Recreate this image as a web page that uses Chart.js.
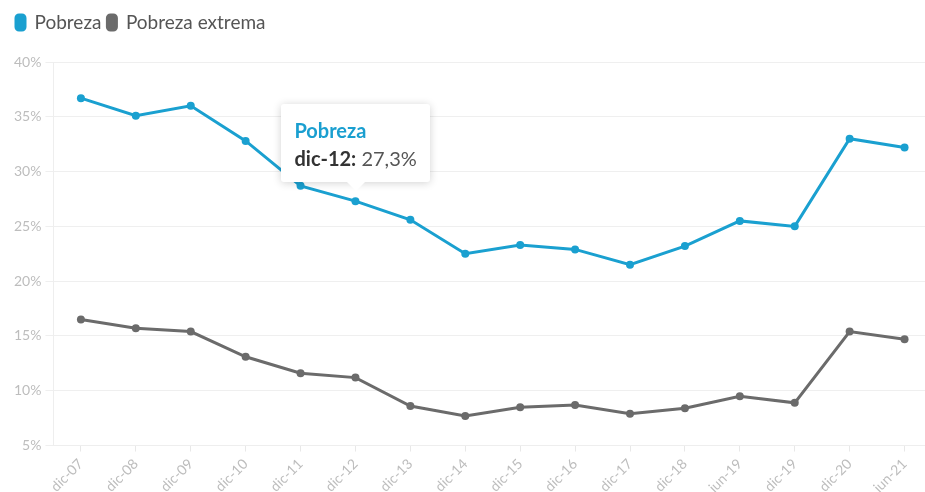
<!DOCTYPE html>
<html>
<head>
<meta charset="utf-8">
<script src="https://cdn.jsdelivr.net/npm/chart.js@4/dist/chart.umd.min.js"></script>
<style>
  html, body { margin: 0; padding: 0; background: #fff; overflow: hidden; }
  .wrap { position: relative; width: 936px; height: 500px; }
  #tip {
    position: absolute; pointer-events: none; background: #fff;
    box-shadow: 0 1px 8px rgba(0,0,0,0.18); border-radius: 3px;
    padding: 14px 13px 12px 13px; font-family: Lato, "Open Sans", sans-serif;
    white-space: nowrap; opacity: 0;
  }
  #tip::after {
    content: ''; position: absolute; left: 50%; bottom: -9px; margin-left: -10px;
    border-left: 10px solid transparent; border-right: 10px solid transparent;
    border-top: 10px solid #fff;
  }
  #tip .t { color: #1a9fd0; font-weight: bold; font-size: 20px; margin-bottom: 4px; }
  #tip .b { color: #555; font-size: 20px; }
  #tip .b strong { color: #333; }
</style>
</head>
<body>
<div class="wrap">
  <canvas id="chart" width="936" height="500"></canvas>
  <div id="tip"></div>
</div>
<script>
// Datos
const labels = ['dic-07','dic-08','dic-09','dic-10','dic-11','dic-12','dic-13','dic-14',
  'dic-15','dic-16','dic-17','dic-18','jun-19','dic-19','dic-20','jun-21'];
const pobreza = [36.7, 35.1, 36.0, 32.8, 28.7, 27.3, 25.6, 22.5, 23.3, 22.9, 21.5, 23.2, 25.5, 25.0, 33.0, 32.2];
const pobrezaExtrema = [16.5, 15.7, 15.4, 13.1, 11.6, 11.2, 8.6, 7.7, 8.5, 8.7, 7.9, 8.4, 9.5, 8.9, 15.4, 14.7];
const yTicks = [5, 10, 15, 20, 25, 30, 35, 40];

const BLUE = '#1aa0d0';
const GREY = '#6b6b6b';
const FONT = 'Lato, "Open Sans", sans-serif';

const fmt = v => v.toFixed(1).replace('.', ',') + '%';

/** Tooltip HTML con caret hacia abajo */
function externalTip(context) {
  const { chart, tooltip } = context;
  const el = document.getElementById('tip');
  if (tooltip.opacity === 0 || !tooltip.dataPoints?.length) { el.style.opacity = 0; return; }
  const dp = tooltip.dataPoints[0];
  el.innerHTML = `<div class="t">${dp.dataset.label}</div>` +
    `<div class="b"><strong>${dp.label}:</strong> ${fmt(dp.raw)}</div>`;
  const w = el.offsetWidth, h = el.offsetHeight;
  el.style.left = (chart.canvas.offsetLeft + tooltip.caretX - w / 2) + 'px';
  el.style.top = (chart.canvas.offsetTop + tooltip.caretY - h - 19) + 'px';
  el.style.opacity = 1;
}

// Espacio extra bajo la leyenda
const legendGap = {
  id: 'legendGap',
  beforeInit(chart) {
    const fit = chart.legend.fit;
    chart.legend.fit = function () { fit.call(this); this.height += 20; };
  },
};

const chart = new Chart(document.getElementById('chart'), {
  type: 'line',
  data: {
    labels,
    datasets: [
      {
        label: 'Pobreza', data: pobreza, borderColor: BLUE, backgroundColor: BLUE,
        borderWidth: 3, pointRadius: 4, pointBackgroundColor: BLUE, pointBorderWidth: 0,
        tension: 0,
      },
      {
        label: 'Pobreza extrema', data: pobrezaExtrema, borderColor: GREY, backgroundColor: GREY,
        borderWidth: 3, pointRadius: 4, pointBackgroundColor: GREY, pointBorderWidth: 0,
        tension: 0,
      },
    ],
  },
  plugins: [legendGap],
  options: {
    responsive: false,
    animation: false,
    layout: { padding: { left: 10, right: 0, top: 7, bottom: 0 } },
    interaction: { mode: 'nearest', intersect: true },
    plugins: {
      legend: {
        position: 'top', align: 'start',
        labels: {
          font: { family: FONT, size: 19 }, color: '#555',
          boxWidth: 9, boxHeight: 15, padding: 6, useBorderRadius: true, borderRadius: 3,
        },
      },
      tooltip: { enabled: false, external: externalTip },
    },
    scales: {
      x: {
        offset: true,
        grid: { drawOnChartArea: false, drawTicks: true, tickLength: 6, color: '#e8e8e8' },
        border: { color: '#eeeeee' },
        ticks: {
          color: '#bdbdbd', font: { family: FONT, size: 14 },
          minRotation: 45, maxRotation: 45, autoSkip: false, padding: 4,
        },
      },
      y: {
        min: 5, max: 40,
        afterBuildTicks: axis => { axis.ticks = yTicks.map(v => ({ value: v })); },
        grid: { color: '#efefef', tickLength: 8 },
        border: { color: '#eeeeee' },
        ticks: {
          color: '#bdbdbd', font: { family: FONT, size: 14 }, padding: 4,
          callback: v => v + '%',
        },
      },
    },
  },
});

// Tooltip activo en dic-12
const idx = labels.indexOf('dic-12');
const meta = chart.getDatasetMeta(0);
chart.tooltip.setActiveElements([{ datasetIndex: 0, index: idx }],
  { x: meta.data[idx].x, y: meta.data[idx].y });
chart.update();
</script>
</body>
</html>
